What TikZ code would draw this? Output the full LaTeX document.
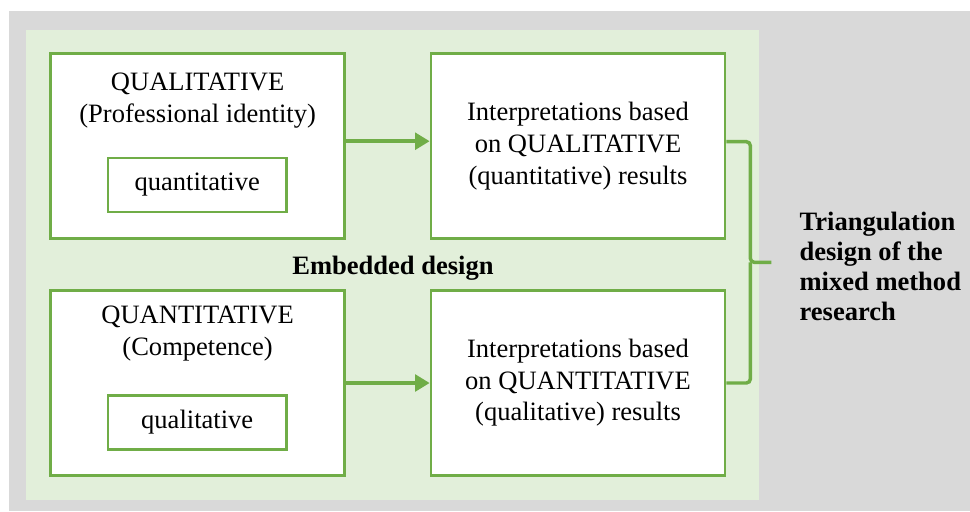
\documentclass[tikz,border=0pt]{standalone}
\usepackage{fontspec}
\setmainfont{Liberation Serif}
\usetikzlibrary{arrows.meta,calc}
\definecolor{gframe}{HTML}{70AD47}
\definecolor{gfill}{HTML}{E2EFDA}
\definecolor{bggray}{HTML}{D9D9D9}
\tikzset{
  bigbox/.style={draw=gframe, line width=2pt, fill=white, inner sep=0pt,
    minimum width=220.5pt, minimum height=138.75pt},
  smallbox/.style={draw=gframe, line width=2pt, fill=white, inner sep=0pt,
    minimum width=133.7pt, minimum height=40.5pt,
    font=\fontsize{19.9}{23.7}\selectfont},
  boxtext/.style={align=center, inner sep=0pt, font=\fontsize{19.9}{23.7}\selectfont},
  boldtext/.style={inner sep=0pt, font=\fontsize{19.9}{22.5}\selectfont\bfseries},
  flowarrow/.style={draw=gframe, line width=3pt, -{Triangle[length=11pt,width=12.5pt]}},
  bracepath/.style={draw=gframe, line width=2.6pt, rounded corners=3pt}
}
\begin{document}
\begin{tikzpicture}[x=0.75pt,y=-0.75pt]
\useasboundingbox (0,0) rectangle (970,511);
\fill[bggray] (9,11) rectangle (970,511);
\fill[gfill] (26,30) rectangle (759,500);

\node[bigbox] (TL) at (197.6,146.2) {};
\node[bigbox] (TR) at (578,146.2) {};
\node[bigbox] (BL) at (197.6,383) {};
\node[bigbox] (BR) at (578,383) {};

\node[smallbox] (TLin) at (197.2,185) {quantitative};
\node[smallbox] (BLin) at (197.2,422.3) {qualitative};

\node[boxtext, anchor=base] (TLtitle) at (197.6,122) {QUALITATIVE\\(Professional identity)};
\node[boxtext, anchor=base] (BLtitle) at (197.6,355) {QUANTITATIVE\\(Competence)};

\node[boxtext] (TRtext) at (TR.center) {Interpretations based\\on QUALITATIVE\\(quantitative) results};
\node[boxtext] (BRtext) at (BR.center) {Interpretations based\\on QUANTITATIVE\\(qualitative) results};

\node[boldtext, anchor=base] (emb) at (393,274) {Embedded design};

\draw[flowarrow] ([yshift=3.75pt]TL.east) -- ([yshift=3.75pt]TR.west);
\draw[flowarrow] (BL.east) -- (BR.west);

\coordinate (bt) at ([yshift=3.4pt]TR.east);
\coordinate (bb) at (BR.east);
\coordinate (bmid) at ($(bt)!0.5!(bb)+(24,0)$);
\coordinate (btip) at ($(bmid)+(21,0)$);
\draw[bracepath] (bt) -| (bmid) -- (btip);
\draw[bracepath] (bb) -| (bmid);

\node[boldtext, align=left, anchor=west] (tri) at ($(btip)+(28,4)$) {Triangulation\\design of the\\mixed method\\research};
\end{tikzpicture}
\end{document}
